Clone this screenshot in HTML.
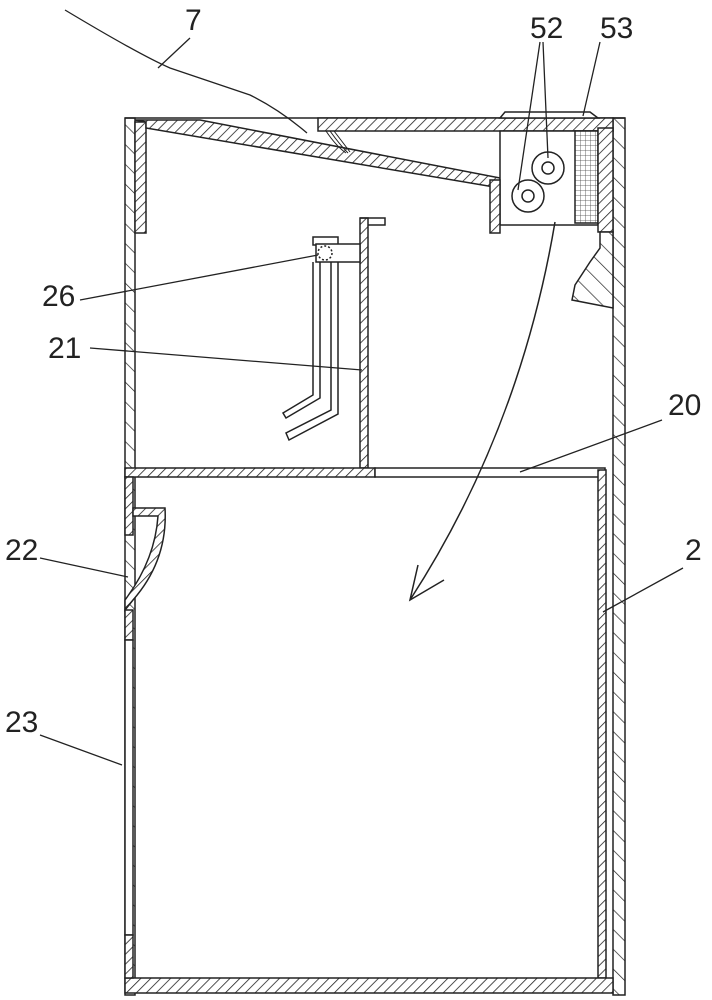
<!DOCTYPE html>
<html><head><meta charset="utf-8"><style>
html,body{margin:0;padding:0;background:#fff}
svg{display:block}
text{font-family:"Liberation Sans",sans-serif;font-size:30px;fill:#222}
</style></head><body>
<svg width="712" height="1000" viewBox="0 0 712 1000" xmlns="http://www.w3.org/2000/svg">
<defs>
<pattern id="h" width="7" height="7" patternUnits="userSpaceOnUse" patternTransform="rotate(45)">
<rect width="7" height="7" fill="#fff"/><line x1="0" y1="0" x2="0" y2="7" stroke="#222" stroke-width="1.6"/></pattern>
<pattern id="hw" width="14" height="14" patternUnits="userSpaceOnUse" patternTransform="rotate(-45)">
<rect width="14" height="14" fill="#fff"/><line x1="0" y1="0" x2="0" y2="14" stroke="#222" stroke-width="1.4"/></pattern>
<pattern id="g" width="5" height="5" patternUnits="userSpaceOnUse">
<rect width="5" height="5" fill="#fff"/><path d="M0 0H5M0 0V5" stroke="#444" stroke-width="0.8"/></pattern>
</defs>
<g stroke="#222" stroke-width="1.5" fill="none">
<!-- outer walls -->
<rect x="125" y="118" width="10" height="877" fill="url(#hw)"/>
<rect x="613" y="118" width="12" height="877" fill="url(#hw)"/>
<line x1="125" y1="118" x2="625" y2="118"/>
<!-- upper left inner panel -->
<rect x="135" y="122" width="11" height="111" fill="url(#h)"/>
<!-- top left band + sloped plate -->
<polygon points="135,120 200,120 500,178 500,188 146,128 146,122" fill="url(#h)"/>
<!-- top right band -->
<rect x="318" y="118" width="295" height="13" fill="url(#h)"/>
<!-- 53 -->
<polygon points="500,118 505,112 590,112 598,118" fill="#fff"/>
<!-- box 52 -->
<rect x="500" y="131" width="98" height="94" fill="#fff"/>
<rect x="490" y="180" width="10" height="53" fill="url(#h)"/>
<rect x="575" y="131" width="23" height="92" fill="url(#g)"/>
<rect x="598" y="128" width="15" height="104" fill="url(#h)"/>
<circle cx="548" cy="168" r="16" fill="#fff"/><circle cx="548" cy="168" r="6"/>
<circle cx="528" cy="196" r="16" fill="#fff"/><circle cx="528" cy="196" r="6"/>
<path d="M326 131 q10 15 20 22 M330 131 q10 14 18 22 M334 131 q10 13 16 21" stroke-width="1"/>
<!-- right lump -->
<polygon points="600,232 613,232 613,308 572,300 575,285 590,262 600,248" fill="url(#hw)"/>
<!-- plate 21 -->
<rect x="360" y="218" width="8" height="250" fill="url(#h)"/>
<path d="M360 218 H385 V225 H380 M368 225 H380" fill="none"/>
<!-- hanger 26 -->
<rect x="313" y="237" width="25" height="8" fill="#fff"/>
<rect x="316" y="244" width="44" height="18" fill="#fff"/>
<circle cx="325" cy="253" r="7" stroke-dasharray="2,2"/>
<path d="M313 262 V395 L283 413 L286 418 L320 398 V262"/>
<path d="M331 262 V410 L286 433 L289 440 L338 414 V262"/>
<!-- floor 20 -->
<rect x="125" y="468" width="250" height="9" fill="url(#h)"/>
<rect x="375" y="468" width="230" height="9" fill="#fff"/>
<rect x="598" y="470" width="8" height="508" fill="url(#h)"/>
<!-- bottom -->
<rect x="125" y="978" width="488" height="15" fill="url(#h)"/>
<!-- lower left wall + hook 22 -->
<rect x="125" y="477" width="8" height="58" fill="url(#h)"/>
<path d="M133 508 H165 Q168 560 133 600 L125 610 V600 Q155 560 158 516 H133 Z" fill="url(#h)"/>
<rect x="125" y="610" width="8" height="30" fill="url(#h)"/>
<rect x="125" y="640" width="8" height="295" fill="#fff"/>
<rect x="125" y="935" width="8" height="43" fill="url(#h)"/>
<!-- big arrow -->
<path d="M555 222 Q520 430 410 600"/>
<path d="M418 565 L410 600 L444 580"/>
<!-- leaders -->
<path d="M65 10 Q140 55 170 68 Q220 85 250 95 Q280 110 307 133" stroke-width="1.3"/>
<path d="M190 38 L158 68" stroke-width="1.3"/>
<path d="M543 42 L548 158 M540 42 L518 190 M600 42 L583 116" stroke-width="1.3"/>
<path d="M80 300 L318 255 M90 348 L362 370 M662 420 L520 472 M40 558 L128 577 M683 568 L603 612 M40 735 L122 765" stroke-width="1.3"/>
</g>
<text x="185" y="30">7</text>
<text x="530" y="38">52</text>
<text x="600" y="38">53</text>
<text x="42" y="306">26</text>
<text x="48" y="358">21</text>
<text x="668" y="415">20</text>
<text x="5" y="560">22</text>
<text x="685" y="560">2</text>
<text x="5" y="732">23</text>
</svg>
</body></html>
